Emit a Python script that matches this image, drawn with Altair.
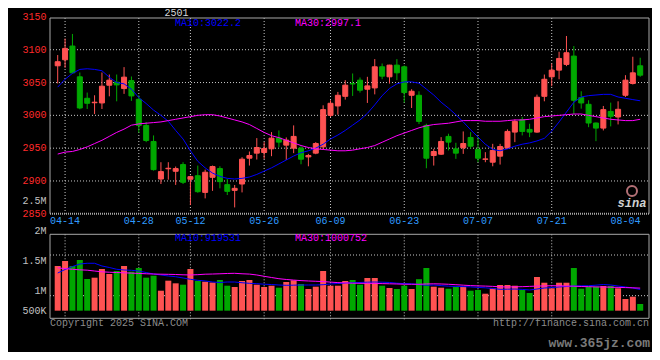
import altair as alt
import pandas as pd

# ---------------- data ----------------
dates = ["04-11","04-14","04-15","04-16","04-17","04-18","04-21","04-22","04-23","04-24","04-25","04-28","04-29","04-30",
         "05-06","05-07","05-08","05-09","05-12","05-13","05-14","05-15","05-16","05-19","05-20","05-21","05-22","05-23",
         "05-26","05-27","05-28","05-29","05-30",
         "06-03","06-04","06-05","06-06","06-09","06-10","06-11","06-12","06-13","06-16","06-17","06-18","06-19","06-20",
         "06-23","06-24","06-25","06-26","06-27","06-30",
         "07-01","07-02","07-03","07-04","07-07","07-08","07-09","07-10","07-11","07-14","07-15","07-16","07-17","07-18",
         "07-21","07-22","07-23","07-24","07-25","07-28","07-29","07-30","07-31",
         "08-01","08-04","08-05","08-06"]

opens = [3075.5,3084.7,3105.6,3058.7,3026.0,3019.2,3018.9,3045.9,3050.5,3040.8,3053.0,3024.5,2984.7,2960.2,
         2903.0,2918.6,2914.8,2925.0,2902.6,2908.0,2882.6,2905.6,2918.9,2894.4,2885.7,2895.4,2934.7,2942.4,
         2943.4,2949.0,2965.3,2954.6,2950.0,
         2950.0,2936.7,2942.4,2952.0,3000.0,3014.3,3029.0,3048.5,3053.6,3039.8,3041.8,3074.0,3058.7,3076.5,
         3074.0,3030.6,3030.6,2984.7,2938.8,2940.8,
         2967.9,2949.0,2950.5,2966.3,2948.0,2933.0,2928.6,2937.8,2950.0,2974.5,2993.4,2978.6,2974.5,3029.0,
         3058.7,3068.9,3077.6,3090.3,3027.0,3016.8,2988.3,2980.6,3006.0,
         2997.5,3030.6,3048.5,3075.5]
highs = [3091.9,3117.0,3124.0,3065.3,3034.7,3030.6,3065.3,3062.2,3062.2,3073.5,3059.2,3030.6,2989.8,2969.4,
         2928.6,2928.6,2922.0,2928.6,2908.0,2923.5,2917.3,2923.5,2922.4,2903.0,2893.9,2936.2,2944.9,2965.3,
         2959.2,2974.5,2977.0,2966.3,2984.7,
         2953.0,2941.3,2959.2,3015.3,3023.0,3035.7,3053.6,3063.8,3057.7,3058.7,3085.7,3079.0,3077.0,3085.7,
         3076.0,3039.8,3036.7,2987.2,2949.0,2966.8,
         2972.0,2958.2,2975.5,2974.5,2966.8,2943.9,2956.6,2956.6,2978.6,2993.9,2997.4,2987.2,3031.6,3062.2,
         3079.0,3096.9,3120.9,3105.6,3036.7,3023.0,2989.0,3014.3,3019.4,
         3021.4,3061.2,3089.3,3087.8]
lows = [3048.6,3072.5,3063.8,3009.2,3009.7,3002.0,3009.7,3029.0,3021.4,3032.7,3022.0,2973.5,2959.2,2915.8,
        2895.4,2902.0,2894.0,2895.4,2863.3,2882.0,2873.5,2885.0,2888.8,2878.6,2859.7,2882.6,2923.5,2932.7,
        2933.7,2937.8,2951.5,2932.0,2942.4,
        2925.5,2922.4,2940.8,2948.0,2997.4,3001.0,3024.0,3029.6,3034.7,3018.9,3032.0,3055.0,3048.5,3053.6,
        3019.4,3011.2,2986.7,2919.4,2923.5,2939.8,
        2946.5,2933.7,2941.3,2949.0,2928.6,2928.6,2922.4,2925.0,2949.0,2959.2,2969.4,2966.8,2973.5,3021.4,
        3044.4,3055.0,3075.0,3001.5,3010.2,2982.0,2960.7,2977.0,2983.2,
        2986.2,3028.0,3047.0,3058.7]
closes = [3081.7,3102.0,3064.8,3011.2,3018.4,3020.0,3044.4,3053.6,3046.4,3058.2,3029.6,2984.7,2961.7,2917.3,
          2914.3,2919.4,2918.9,2898.0,2906.6,2883.7,2913.3,2922.0,2899.0,2884.2,2888.8,2933.2,2938.8,2951.0,
          2949.5,2965.3,2959.2,2962.2,2967.9,
          2933.2,2938.8,2957.1,3008.7,3018.4,3030.6,3046.0,3047.8,3038.3,3044.9,3074.0,3059.7,3076.5,3064.8,
          3034.7,3036.7,2990.8,2934.7,2944.9,2960.2,
          2959.2,2942.4,2957.1,2953.0,2934.7,2933.6,2946.4,2952.5,2975.5,2990.8,2975.5,2974.5,3027.6,3055.0,
          3068.9,3086.7,3095.4,3023.0,3018.9,2988.3,2980.6,3008.7,2998.5,
          3009.2,3053.6,3064.8,3061.2]
volumes = [1412000,1495000,1412000,1512000,1195000,1217000,1362000,1278000,1328000,1412000,1317000,1378000,1217000,1250000,
           1000000,1167000,1123000,1100000,1362000,1162000,1150000,1137000,1178000,1083000,1062000,1162000,1178000,1100000,
           1062000,1083000,1050000,1145000,1173000,
           1112000,1028000,1067000,1328000,1083000,1083000,1162000,1178000,1100000,1212000,1212000,1083000,1045000,1028000,
           1083000,1028000,1192000,1378000,1067000,1050000,
           1033000,1067000,1067000,1000000,1012000,950000,1040000,1095000,1095000,1083000,1012000,962000,1228000,1133000,
           1040000,1133000,1133000,1378000,1033000,1067000,1067000,1078000,1078000,
           1040000,862000,900000,778000]
ma10 = [3043,3055,3064,3070,3071,3070,3068,3058,3050,3048,3040,3027,3018,3008,
        3000,2991,2977,2964,2946,2930,2920,2912,2907,2904,2903,2904,2906,2910,
        2915,2920,2926,2932,2938,
        2943,2946,2950,2956,2964,2970,2977,2985,2993,3003,3016,3030,3041,3048,
        3051,3051,3049,3040,3031,3020,
        3011,3001,2990,2978,2967,2956,2948,2946,2949,2953,2956,2958,2961,2965,
        2976,2990,3005,3020,3028,3030,3031,3032,3032,
        3028,3026,3024,3022.2]
ma30 = [2941,2944,2945,2948,2952,2957,2962,2968,2974,2979,2985,2987,2988,2989,
        2990,2992,2994,2996,2998,3000,3001,3001,2999,2996,2993,2990,2986,2980,
        2974,2969,2966,2962,2958,
        2954,2951,2949,2948,2947,2946,2946,2947,2949,2951,2954,2959,2964,2969,
        2973,2977,2981,2984,2986,2987,
        2988,2990,2992,2992,2992,2991,2991,2991,2992,2993,2993,2994,2996,2998,
        2999,3000,3001,3002,3002,3000,2998,2996,2994,
        2993,2992,2992,2994]
vol_ma10 = [1295000,1353000,1403000,1445000,1457000,1457000,1412000,1387000,1357000,1345000,1340000,1328000,1303000,1278000,
            1262000,1245000,1233000,1212000,1190000,1173000,1162000,1145000,1137000,1145000,1145000,1133000,1123000,1117000,
            1108000,1103000,1095000,1090000,1092000,
            1095000,1095000,1095000,1100000,1112000,1120000,1128000,1133000,1137000,1142000,1145000,1142000,1137000,1125000,
            1118000,1115000,1103000,1090000,1095000,1085000,
            1075000,1072000,1068000,1063000,1055000,1048000,1037000,1023000,1025000,1028000,1022000,1012000,1028000,1045000,
            1052000,1062000,1070000,1078000,1082000,1083000,1092000,1103000,1095000,
            1078000,1062000,1045000,1020000]
vol_ma30 = [1382000,1367000,1357000,1348000,1342000,1328000,1315000,1308000,1303000,1298000,1293000,1288000,1282000,1278000,
            1275000,1273000,1270000,1265000,1262000,1267000,1275000,1278000,1282000,1287000,1290000,1282000,1277000,1262000,
            1240000,1220000,1200000,1187000,1177000,
            1168000,1162000,1157000,1152000,1143000,1135000,1130000,1125000,1123000,1123000,1122000,1118000,1115000,1112000,
            1108000,1107000,1107000,1112000,1115000,1112000,
            1107000,1100000,1092000,1085000,1080000,1077000,1072000,1065000,1062000,1065000,1067000,1072000,1077000,1080000,
            1083000,1082000,1078000,1075000,1070000,1067000,1063000,1062000,1058000,
            1055000,1052000,1048000,1043000]

price_ticks = [3150, 3100, 3050, 3000, 2950, 2900, 2850]
price_grid = [3100, 3050, 3000, 2950, 2900]
date_ticks = ["04-14", "04-28", "05-12", "05-26", "06-09", "06-23", "07-07", "07-21", "08-04"]
grid_dates = date_ticks[:-1]
vol_tick_labels = ["2.5M", "2M", "1.5M", "1M", "500K"]
vol_tick_values = [2500000, 2000000, 1500000, 1000000, 667000]
vol_grid = [1595000, 917000]
vol_base = 667000
symbol = "2501"
price_ma_labels = ["MA10:3022.2", "MA30:2997.1"]
vol_ma_labels = ["MA10:919531", "MA30:1000752"]

# ---------------- tables ----------------
df = pd.DataFrame({"date": dates, "open": opens, "high": highs, "low": lows,
                   "close": closes, "vol": volumes, "ma10": ma10, "ma30": ma30,
                   "vma10": vol_ma10, "vma30": vol_ma30})
df["i"] = range(1, len(df) + 1)
df["dir"] = ["up" if c >= o else "down" for o, c in zip(opens, closes)]
idx = {d: k + 1 for k, d in enumerate(dates)}
ptick_df = pd.DataFrame({"v": price_ticks, "t": [str(v) for v in price_ticks]})
pgrid_df = pd.DataFrame({"v": price_grid})
dtick_df = pd.DataFrame({"t": date_ticks, "i": [idx[d] for d in date_ticks]})
dgrid_df = pd.DataFrame({"i": [idx[d] for d in grid_dates]})
vtick_df = pd.DataFrame({"v": vol_tick_values, "t": vol_tick_labels})
vgrid_df = pd.DataFrame({"v": vol_grid})
one = pd.DataFrame({"a": [0]})

# ---------------- scales (view px = page px - 8) ----------------
XS = alt.Scale(domain=[1, 80], range=[44.7, 637.2], nice=False, zero=False)
PS = alt.Scale(domain=[2850, 3150], range=[205.8, 8.9], nice=False, zero=False)
VS = alt.Scale(domain=[1000000, 2000000], range=[282.7, 222.7], nice=False, zero=False)
CS = alt.Scale(domain=["up", "down"], range=["#ff5252", "#00a800"])

X = alt.X("i:Q", scale=XS, axis=None)
FONT = "Liberation Mono"
GRID = "#c8c8c8"
FRAME = "#a8a8a8"

def frame_rule(x1, x2, y1, y2, dash=None, width=1, color=FRAME):
    kw = dict(color=color, strokeWidth=width)
    if dash:
        kw["strokeDash"] = dash
    return alt.Chart(one).mark_rule(**kw).encode(
        x=alt.value(x1), x2=alt.value(x2), y=alt.value(y1), y2=alt.value(y2))

def label(text, x, y, color, align="left", size=10, **kw):
    return alt.Chart(pd.DataFrame({"t": [text]})).mark_text(
        font=FONT, fontSize=size, color=color, align=align, baseline="middle", **kw
    ).encode(x=alt.value(x), y=alt.value(y), text="t:N")

layers = []

# gridlines
layers.append(alt.Chart(pgrid_df).mark_rule(color=GRID, strokeDash=[1, 2], strokeWidth=1).encode(
    y=alt.Y("v:Q", scale=PS, axis=None), x=alt.value(42), x2=alt.value(641)))
layers.append(alt.Chart(dgrid_df).mark_rule(color=GRID, strokeDash=[1, 2], strokeWidth=1).encode(
    x=X, y=alt.value(10), y2=alt.value(205.7)))
layers.append(alt.Chart(dgrid_df).mark_rule(color=GRID, strokeDash=[1, 2], strokeWidth=1).encode(
    x=X, y=alt.value(226.3), y2=alt.value(312)))
layers.append(alt.Chart(vgrid_df).mark_rule(color=GRID, strokeDash=[1, 2], strokeWidth=1).encode(
    y=alt.Y("v:Q", scale=VS, axis=None), x=alt.value(42), x2=alt.value(641)))

# frames
layers += [
    frame_rule(42, 641, 10, 10),
    frame_rule(42, 42, 10, 205.7),
    frame_rule(641, 641, 10, 205.7),
    frame_rule(42, 641, 205.7, 205.7, dash=[1, 1], width=2),
    frame_rule(42, 641, 226.3, 226.3),
    frame_rule(42, 641, 310.3, 310.3),
    frame_rule(42, 42, 226.3, 310.3),
    frame_rule(641, 641, 226.3, 310.3),
]

# volume bars + MAs
layers.append(alt.Chart(df).mark_bar(size=6).encode(
    x=X, y=alt.Y("vol:Q", scale=VS, axis=None), y2=alt.datum(vol_base),
    color=alt.Color("dir:N", scale=CS, legend=None)))
layers.append(alt.Chart(df).mark_line(color="#0000ff", strokeWidth=1).encode(
    x=X, y=alt.Y("vma10:Q", scale=VS, axis=None)))
layers.append(alt.Chart(df).mark_line(color="#ff00ff", strokeWidth=1).encode(
    x=X, y=alt.Y("vma30:Q", scale=VS, axis=None)))

# candles
layers.append(alt.Chart(df).mark_rule(strokeWidth=1).encode(
    x=X, y=alt.Y("low:Q", scale=PS, axis=None), y2="high:Q",
    color=alt.Color("dir:N", scale=CS, legend=None)))
layers.append(alt.Chart(df).mark_bar(size=5, strokeWidth=1).encode(
    x=X, y=alt.Y("open:Q", scale=PS, axis=None), y2="close:Q",
    color=alt.Color("dir:N", scale=CS, legend=None),
    stroke=alt.Stroke("dir:N", scale=CS, legend=None)))
layers.append(alt.Chart(df).mark_line(color="#0000ff", strokeWidth=1).encode(
    x=X, y=alt.Y("ma10:Q", scale=PS, axis=None)))
layers.append(alt.Chart(df).mark_line(color="#ff00ff", strokeWidth=1).encode(
    x=X, y=alt.Y("ma30:Q", scale=PS, axis=None)))

# tick labels
layers.append(alt.Chart(ptick_df).mark_text(font=FONT, fontSize=10, color="#ff2a2a", align="right", baseline="middle").encode(
    y=alt.Y("v:Q", scale=PS, axis=None), x=alt.value(38.5), text="t:N"))
layers.append(alt.Chart(vtick_df).mark_text(font=FONT, fontSize=10, color="#c0c0c0", align="right", baseline="middle").encode(
    y=alt.Y("v:Q", scale=VS, axis=None), x=alt.value(38.5), text="t:N"))
layers.append(alt.Chart(dtick_df).mark_text(font=FONT, fontSize=10, color="#2f9bff", align="center", baseline="middle").encode(
    x=X, y=alt.value(213), text="t:N"))

# sina logo ring
layers.append(alt.Chart(one).mark_point(shape="circle", filled=False, color="#ffa0a8", size=100, strokeWidth=2).encode(
    x=alt.value(624), y=alt.value(183)))

# other texts
layers += [
    label(symbol, 168.5, 4.5, "#d8d8d8", align="center"),
    label(price_ma_labels[0], 167, 15.3, "#0000ff"),
    label(price_ma_labels[1], 287, 15.3, "#ff00ff"),
    label(vol_ma_labels[0], 167, 230.3, "#0000ff"),
    label(vol_ma_labels[1], 287, 230.3, "#ff00ff"),
    label("Copyright 2025 SINA.COM", 42, 315.3, "#8c8c8c"),
    label("http://finance.sina.com.cn", 641, 315.3, "#8c8c8c", align="right"),
    label("sina", 624, 195, "#d0d0d0", align="center", size=12, fontStyle="italic", fontWeight="bold"),
    label("www.365jz.com", 642, 335, "#7a7a7a", align="right", size=13, fontWeight="bold"),
]

chart = alt.layer(*layers).resolve_scale(y="independent").properties(
    width=644, height=344, background="black", padding=0,
    autosize=alt.AutoSizeParams(type="none")
).configure_view(stroke=None)

chart.save("out.html", embed_options={"renderer": "svg", "actions": False})
